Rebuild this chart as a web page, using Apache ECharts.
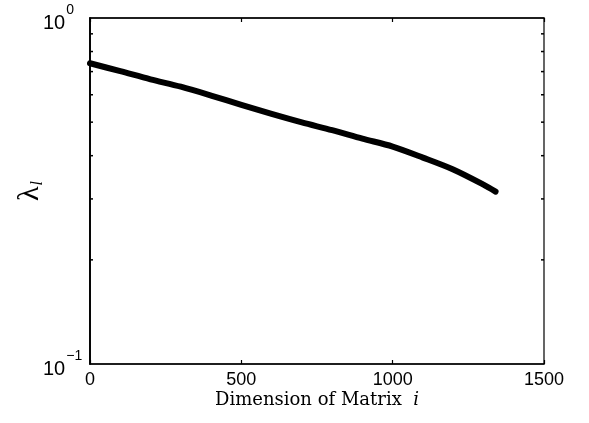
<!DOCTYPE html>
<html>
<head>
<meta charset="utf-8">
<script src="https://cdn.jsdelivr.net/npm/echarts@6/dist/echarts.min.js"></script>
<style>
  html, body { margin: 0; padding: 0; background: #fff; }
  #chart { width: 589px; height: 423px; }
</style>
</head>
<body>
<div id="chart"></div>
<script>
// Eigenvalue decay against matrix dimension (log-scaled eigenvalues)
const dimension = [0, 100, 200, 300, 400, 500, 600, 700, 800, 900, 1000, 1100, 1200, 1300, 1340];
const lambda = [0.740, 0.702, 0.665, 0.633, 0.597, 0.561, 0.528, 0.499, 0.474, 0.448, 0.425, 0.395, 0.365, 0.330, 0.315];

// x-axis ticks and log minor ticks on the y-axis
const xTicks = [0, 500, 1000, 1500];
const yMinorTicks = [0.2, 0.3, 0.4, 0.5, 0.6, 0.7, 0.8, 0.9];

const chart = echarts.init(document.getElementById('chart'), null, { renderer: 'canvas' });

const sansFont = 'Liberation Sans';
const serifFont = 'DejaVu Serif';

const option = {
  animation: false,
  backgroundColor: '#fff',
  grid: {
    left: 90, right: 45, top: 18, bottom: 59,
    outerBoundsMode: 'none',
    containLabel: false,
    show: true, borderColor: '#000', borderWidth: 1.2, backgroundColor: 'transparent'
  },
  xAxis: [
    {
      type: 'value',
      min: xTicks[0], max: xTicks[xTicks.length - 1], interval: 500,
      position: 'bottom',
      axisLine: { show: true, lineStyle: { color: '#000', width: 1.5 } },
      axisTick: { show: true, inside: true, length: 4, lineStyle: { color: '#000', width: 1.2 } },
      splitLine: { show: false },
      axisLabel: {
        color: '#000', fontFamily: sansFont, fontSize: 18, margin: 7,
        formatter: function (v) { return String(v); }
      },
      name: '{n|Dimension of Matrix  }{i|i}',
      nameLocation: 'middle',
      nameMoveOverlap: false,
      nameGap: 27,
      nameTextStyle: {
        rich: {
          n: { fontFamily: serifFont, fontSize: 18, color: '#000' },
          i: { fontFamily: serifFont, fontSize: 18, fontStyle: 'italic', color: '#000' }
        }
      }
    },
    {
      type: 'value',
      min: xTicks[0], max: xTicks[xTicks.length - 1], interval: 500,
      position: 'top',
      axisLine: { show: true, lineStyle: { color: '#000', width: 1.5 } },
      axisTick: { show: true, inside: true, length: 4, lineStyle: { color: '#000', width: 1.2 } },
      axisLabel: { show: false },
      splitLine: { show: false }
    }
  ],
  yAxis: [
    {
      type: 'log',
      logBase: 10,
      min: 0.1, max: 1,
      position: 'left',
      axisLine: { show: true, lineStyle: { color: '#000', width: 1.5 } },
      axisTick: { show: false },
      splitLine: { show: false },
      axisLabel: {
        margin: 47,
        align: 'left',
        formatter: function (v) {
          const e = Math.round(Math.log10(v));
          return '{b|10}{s|' + (e < 0 ? '\u2212' + (-e) : e) + '}';
        },
        rich: {
          b: { fontFamily: sansFont, fontSize: 20, color: '#000', lineHeight: 30, verticalAlign: 'bottom' },
          s: { fontFamily: sansFont, fontSize: 14, color: '#000', verticalAlign: 'top', padding: [0, 0, 0, 1] }
        }
      },
      name: '{l|\u03bb}{s|l}',
      nameLocation: 'middle',
      nameMoveOverlap: false,
      nameRotate: 90,
      nameGap: 45,
      nameTextStyle: {
        rich: {
          l: { fontFamily: 'Liberation Serif', fontSize: 30, color: '#000', lineHeight: 30, verticalAlign: 'middle' },
          s: { fontFamily: 'Liberation Serif', fontSize: 16, fontStyle: 'italic', color: '#000', lineHeight: 30, verticalAlign: 'middle', padding: [16, 0, 0, 1] }
        }
      }
    },
    {
      type: 'log',
      logBase: 10,
      min: 0.1, max: 1,
      position: 'right',
      axisLine: { show: true, lineStyle: { color: '#000', width: 1.5 } },
      axisTick: { show: false },
      axisLabel: { show: false },
      splitLine: { show: false }
    }
  ],
  series: [
    {
      type: 'line',
      xAxisIndex: 0,
      yAxisIndex: 0,
      data: dimension.map((d, k) => [d, lambda[k]]),
      showSymbol: false,
      symbol: 'none',
      smooth: 0.3,
      lineStyle: { color: '#000', width: 6, cap: 'round', join: 'round' },
      z: 3
    },
    {
      // inward minor ticks at 0.2 … 0.9 on both vertical edges
      type: 'custom',
      xAxisIndex: 0,
      yAxisIndex: 0,
      data: yMinorTicks.map(v => [xTicks[0], v]),
      renderItem: function (params, api) {
        const v = api.value(1);
        const pl = api.coord([xTicks[0], v]);
        const pr = api.coord([xTicks[xTicks.length - 1], v]);
        const st = { stroke: '#000', lineWidth: 1.5 };
        return {
          type: 'group',
          children: [
            { type: 'line', shape: { x1: pl[0], y1: pl[1], x2: pl[0] + 3, y2: pl[1] }, style: st },
            { type: 'line', shape: { x1: pr[0] - 3, y1: pr[1], x2: pr[0], y2: pr[1] }, style: st }
          ]
        };
      },
      clip: false,
      silent: true,
      z: 4
    }
  ]
};

chart.setOption(option);
</script>
</body>
</html>
